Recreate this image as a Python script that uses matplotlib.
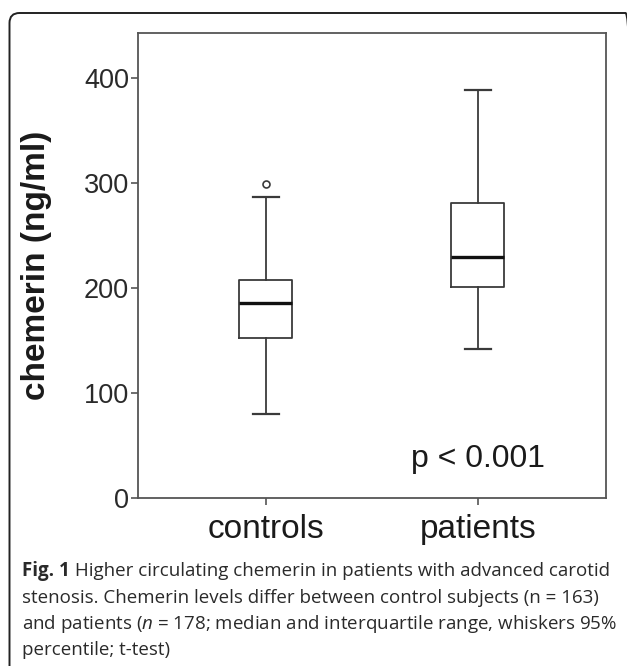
import matplotlib.pyplot as plt
from matplotlib.patches import FancyBboxPatch

plt.rcParams['font.family'] = ['Liberation Sans', 'DejaVu Sans']
plt.rcParams['mathtext.fontset'] = 'custom'
plt.rcParams['mathtext.rm'] = 'Open Sans'
plt.rcParams['mathtext.it'] = 'Open Sans:italic'
plt.rcParams['mathtext.bf'] = 'Open Sans:bold'

# values (ng/ml)
groups = ['controls', 'patients']
whisker_low = [80, 142]
q1 = [152, 201]
median = [186, 230]
q3 = [208, 281]
whisker_high = [287, 389]
outliers = [[299], []]
p_text = 'p < 0.001'
y_ticks = [0, 100, 200, 300, 400]

caption_head = 'Fig. 1'
caption_lines = [
    ' Higher circulating chemerin in patients with advanced carotid',
    'stenosis. Chemerin levels differ between control subjects (n = 163)',
    r'and patients ($\mathit{n}$ = 178; median and interquartile range, whiskers 95%',
    'percentile; t-test)',
]

fig = plt.figure(figsize=(6.27, 6.66), dpi=100)
ax = fig.add_axes([0.220, 0.2523, 0.7465, 0.6982])

stats = []
for i in range(len(groups)):
    stats.append({'whislo': whisker_low[i], 'q1': q1[i], 'med': median[i],
                  'q3': q3[i], 'whishi': whisker_high[i], 'fliers': outliers[i]})

line_col = '#3a3a3a'
ax.bxp(stats, positions=[1, 2], widths=0.25, capwidths=0.123,
       boxprops=dict(color=line_col, linewidth=1.3),
       whiskerprops=dict(color=line_col, linewidth=1.3),
       capprops=dict(color=line_col, linewidth=1.6),
       medianprops=dict(color='#111111', linewidth=2.4),
       flierprops=dict(marker='o', markersize=5, markerfacecolor='white',
                       markeredgecolor=line_col, markeredgewidth=1.2))

ax.set_xlim(0.396, 2.604)
ax.set_ylim(0, 443)
ax.set_xticks([1, 2])
ax.set_xticklabels(groups, fontsize=24, color='#1a1a1a')
ax.set_yticks(y_ticks)
ax.set_yticklabels([str(v) for v in y_ticks], fontsize=19.5, color='#2a2a2a')
ax.tick_params(axis='y', length=5, width=1.2, color='#555555', pad=1.5)
ax.tick_params(axis='x', length=5, width=1.2, color='#555555', pad=6.5)
for s in ax.spines.values():
    s.set_color('#555555')
    s.set_linewidth(1.3)

ax.set_ylabel('chemerin (ng/ml)', fontsize=24, fontweight='bold', color='#1a1a1a')
ax.yaxis.set_label_coords(-0.184, 0.501)

ax.text(2.0, 29.5, p_text, fontsize=23, color='#1a1a1a', ha='center', va='baseline')

# rounded frame around the figure
frame = FancyBboxPatch((9.5, -40), 626, 693, boxstyle='round,pad=0,rounding_size=10',
                       transform=None, fill=False, edgecolor='#222222', linewidth=1.4)
fig.patches.append(frame)

x0 = 22
baselines = [576, 603, 629, 655]
head = fig.text(x0 / 627, 1 - baselines[0] / 666, caption_head, fontsize=11.3,
                family='Open Sans', fontweight='bold', color='#2a2a2a',
                ha='left', va='baseline')
texts = []
for line, yb in zip(caption_lines, baselines):
    t = fig.text(x0 / 627, 1 - yb / 666, line, fontsize=11.3, family='Open Sans',
                 color='#2a2a2a', ha='left', va='baseline')
    texts.append(t)

# fit caption width: first line runs to about x=615 px
r = fig.canvas.get_renderer()
w = head.get_window_extent(r).width + texts[0].get_window_extent(r).width
scale = (615 - x0) / w
head.set_fontsize(11.3 * scale)
for t in texts:
    t.set_fontsize(11.3 * scale)
hw = head.get_window_extent(r).width
texts[0].set_x((x0 + hw) / 627)

fig.savefig('out.png', dpi=100)
